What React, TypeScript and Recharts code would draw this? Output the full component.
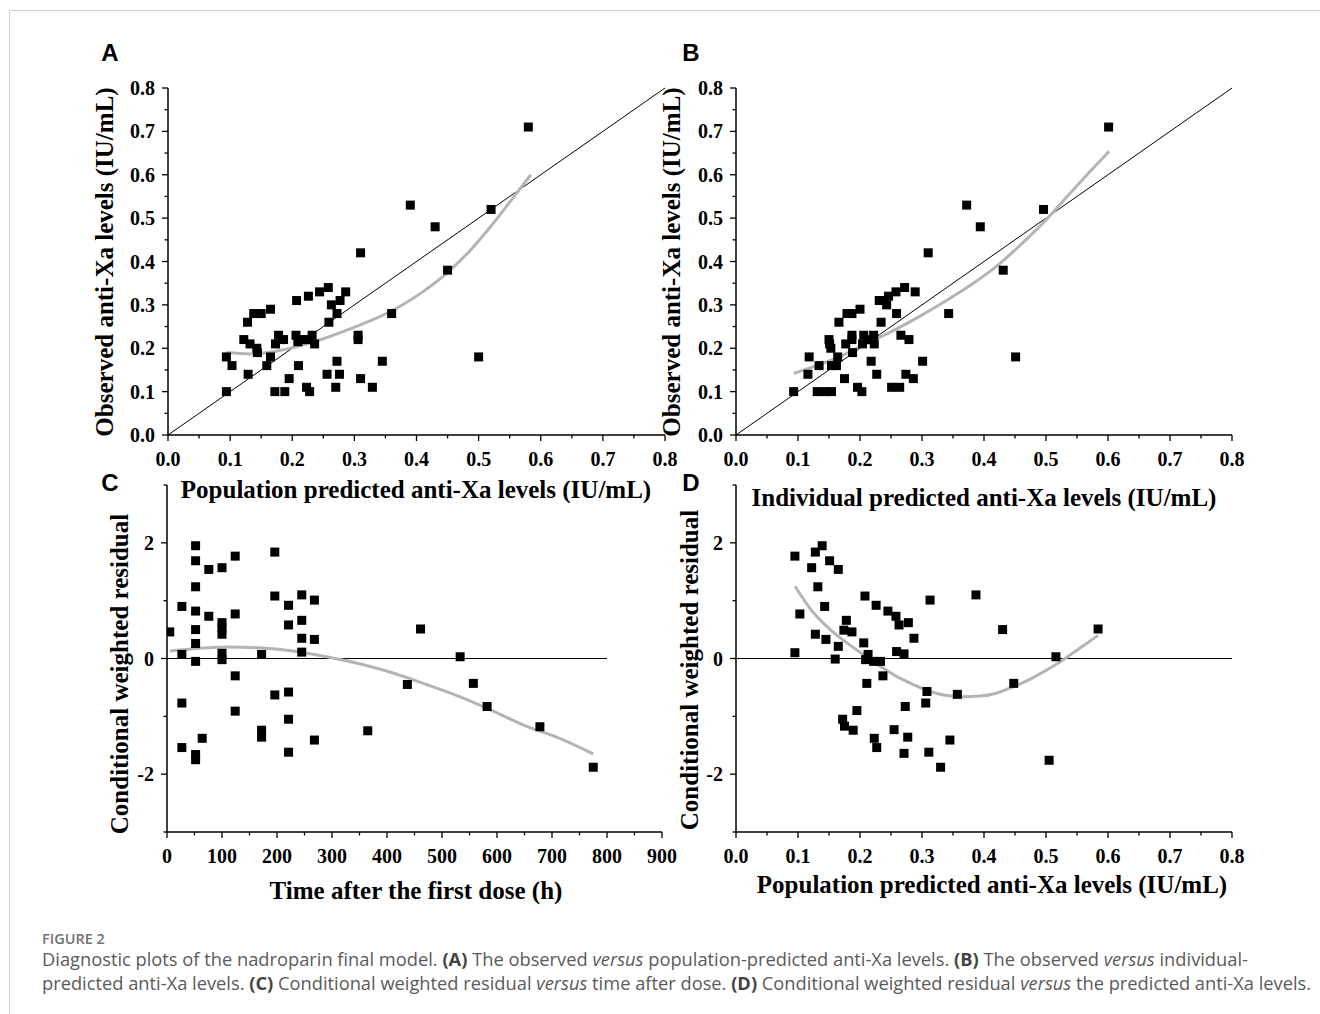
import React from 'react';
import { ComposedChart, Scatter, XAxis, YAxis, ReferenceLine } from 'recharts';

// ---------- Panel A: observed vs population predicted ----------
const popPredA = [0.58, 0.39, 0.43, 0.52, 0.31, 0.45, 0.36, 0.50, 0.165, 0.138, 0.150, 0.128, 0.207, 0.226, 0.244, 0.258, 0.286, 0.263, 0.277, 0.272, 0.259, 0.122, 0.132, 0.143, 0.144, 0.094, 0.103, 0.129, 0.094, 0.159, 0.165, 0.173, 0.178, 0.186, 0.206, 0.209, 0.217, 0.225, 0.232, 0.236, 0.210, 0.195, 0.172, 0.188, 0.223, 0.228, 0.256, 0.272, 0.276, 0.270, 0.306, 0.306, 0.310, 0.329, 0.345];
const obsA = [0.71, 0.53, 0.48, 0.52, 0.42, 0.38, 0.28, 0.18, 0.29, 0.28, 0.28, 0.26, 0.31, 0.32, 0.33, 0.34, 0.33, 0.30, 0.31, 0.28, 0.26, 0.22, 0.21, 0.20, 0.19, 0.18, 0.16, 0.14, 0.10, 0.16, 0.18, 0.21, 0.23, 0.22, 0.23, 0.215, 0.22, 0.22, 0.23, 0.21, 0.16, 0.13, 0.10, 0.10, 0.11, 0.10, 0.14, 0.17, 0.14, 0.11, 0.23, 0.22, 0.13, 0.11, 0.17];
const smoothA_x = [0.094, 0.132, 0.169, 0.210, 0.250, 0.290, 0.330, 0.370, 0.410, 0.448, 0.486, 0.523, 0.556, 0.584];
const smoothA_y = [0.190, 0.187, 0.192, 0.205, 0.222, 0.243, 0.266, 0.294, 0.330, 0.372, 0.425, 0.487, 0.548, 0.600];

// ---------- Panel B: observed vs individual predicted ----------
const indPredB = [0.601, 0.372, 0.394, 0.496, 0.310, 0.431, 0.343, 0.451, 0.166, 0.179, 0.187, 0.200, 0.231, 0.238, 0.246, 0.258, 0.272, 0.289, 0.243, 0.259, 0.234, 0.187, 0.187, 0.206, 0.222, 0.204, 0.223, 0.212, 0.177, 0.150, 0.151, 0.153, 0.164, 0.188, 0.118, 0.134, 0.154, 0.162, 0.116, 0.093, 0.131, 0.144, 0.154, 0.175, 0.196, 0.203, 0.218, 0.227, 0.251, 0.264, 0.266, 0.279, 0.274, 0.286, 0.301];
const obsB = [0.71, 0.53, 0.48, 0.52, 0.42, 0.38, 0.28, 0.18, 0.26, 0.28, 0.28, 0.29, 0.31, 0.31, 0.32, 0.33, 0.34, 0.33, 0.30, 0.28, 0.26, 0.23, 0.22, 0.23, 0.23, 0.21, 0.21, 0.22, 0.21, 0.22, 0.21, 0.20, 0.18, 0.19, 0.18, 0.16, 0.16, 0.16, 0.14, 0.10, 0.10, 0.10, 0.10, 0.13, 0.11, 0.10, 0.17, 0.14, 0.11, 0.11, 0.23, 0.22, 0.14, 0.13, 0.17];
const smoothB_x = [0.093, 0.130, 0.168, 0.205, 0.249, 0.292, 0.335, 0.378, 0.421, 0.458, 0.496, 0.528, 0.561, 0.602];
const smoothB_y = [0.142, 0.160, 0.181, 0.207, 0.237, 0.270, 0.306, 0.345, 0.390, 0.437, 0.490, 0.540, 0.592, 0.654];

// ---------- Panel C: CWRES vs time ----------
const timeC = [5, 27, 27, 27, 27, 52, 52, 52, 52, 52, 52, 52, 52, 52, 64, 76, 76, 100, 100, 100, 100, 100, 100, 124, 124, 124, 124, 172, 172, 172, 196, 196, 196, 221, 221, 221, 221, 221, 245, 245, 245, 245, 268, 268, 268, 365, 437, 461, 533, 557, 582, 678, 775];
const cwresC = [0.46, 0.90, 0.07, -0.77, -1.54, 1.95, 1.69, 1.24, 0.82, 0.50, 0.26, -0.05, -1.66, -1.75, -1.38, 1.54, 0.73, 1.57, 0.62, 0.53, 0.42, 0.09, -0.02, 1.77, 0.77, -0.30, -0.91, 0.07, -1.24, -1.36, 1.84, 1.08, -0.63, 0.92, 0.58, -0.58, -1.05, -1.62, 1.10, 0.66, 0.35, 0.11, 1.01, 0.33, -1.41, -1.25, -0.45, 0.51, 0.03, -0.43, -0.83, -1.18, -1.88];
const smoothC_x = [5, 47, 108, 168, 229, 290, 350, 411, 472, 532, 593, 653, 714, 775];
const smoothC_y = [0.13, 0.17, 0.20, 0.185, 0.13, 0.03, -0.09, -0.25, -0.45, -0.66, -0.91, -1.17, -1.38, -1.65];

// ---------- Panel D: CWRES vs population predicted ----------
const popPredD = [0.095, 0.095, 0.103, 0.122, 0.128, 0.139, 0.151, 0.165, 0.132, 0.143, 0.128, 0.145, 0.165, 0.160, 0.178, 0.174, 0.187, 0.172, 0.175, 0.189, 0.195, 0.208, 0.226, 0.245, 0.258, 0.263, 0.278, 0.287, 0.206, 0.213, 0.209, 0.233, 0.222, 0.237, 0.211, 0.259, 0.271, 0.273, 0.223, 0.227, 0.255, 0.277, 0.271, 0.308, 0.306, 0.313, 0.311, 0.330, 0.345, 0.357, 0.387, 0.430, 0.448, 0.505, 0.516, 0.584];
const cwresD = [1.77, 0.10, 0.77, 1.57, 1.84, 1.95, 1.69, 1.54, 1.24, 0.90, 0.42, 0.33, 0.21, -0.01, 0.66, 0.49, 0.46, -1.05, -1.17, -1.24, -0.90, 1.08, 0.92, 0.82, 0.73, 0.58, 0.62, 0.35, 0.27, 0.07, -0.02, -0.05, -0.05, -0.30, -0.43, 0.12, 0.08, -0.83, -1.38, -1.54, -1.23, -1.36, -1.64, -0.57, -0.77, 1.01, -1.62, -1.88, -1.41, -0.62, 1.10, 0.50, -0.43, -1.76, 0.03, 0.51];
const smoothD_x = [0.095, 0.125, 0.152, 0.179, 0.205, 0.232, 0.259, 0.286, 0.313, 0.340, 0.367, 0.394, 0.420, 0.447, 0.474, 0.501, 0.528, 0.555, 0.584];
const smoothD_y = [1.25, 0.79, 0.50, 0.27, 0.07, -0.13, -0.31, -0.45, -0.57, -0.64, -0.66, -0.65, -0.60, -0.49, -0.36, -0.20, -0.02, 0.18, 0.40];

// ---------- Ticks ----------
const concMajorTicks = [0, 0.1, 0.2, 0.3, 0.4, 0.5, 0.6, 0.7, 0.8];
const concMinorTicks = [0.05, 0.15, 0.25, 0.35, 0.45, 0.55, 0.65, 0.75];
const timeMajorTicks = [0, 100, 200, 300, 400, 500, 600, 700, 800, 900];
const timeMinorTicks = [50, 150, 250, 350, 450, 550, 650, 750, 850];
const cwresLabelTicks = [-2, 0, 2];
const cwresOtherTicks = [-3, -1, 1, 3];

const zip = (xs: number[], ys: number[]) => xs.map((x, i) => ({ x, y: ys[i] }));

const W = 1320;
const H = 1014;
const SERIF = '"Liberation Serif", "Times New Roman", serif';
const SANS = '"Liberation Sans", Arial, sans-serif';
const CAP = '"Open Sans", "Noto Sans", sans-serif';
const TICK_FONT = 20;

const isIn = (arr: number[], v: number) => arr.some((t) => Math.abs(t - v) < 1e-9);

const makeXTick = (labeled: number[], fmt: (v: number) => string) => (props: any) => {
  const { x, y, payload } = props;
  const v = payload.value;
  const major = isIn(labeled, v);
  return (
    <g>
      <line x1={x} x2={x} y1={y} y2={y + (major ? 6 : 3.5)} stroke="#000" strokeWidth={1.3} />
      {major && (
        <text x={x} y={y + 31} textAnchor="middle" fontFamily={SERIF} fontWeight="bold" fontSize={TICK_FONT} fill="#000">
          {fmt(v)}
        </text>
      )}
    </g>
  );
};

const makeYTick = (labeled: number[], fmt: (v: number) => string) => (props: any) => {
  const { x, y, payload } = props;
  const v = payload.value;
  const major = isIn(labeled, v);
  return (
    <g>
      <line x1={x} x2={x - (major ? 6 : 3.5)} y1={y} y2={y} stroke="#000" strokeWidth={1.3} />
      {major && (
        <text x={x - 13} y={y + 7} textAnchor="end" fontFamily={SERIF} fontWeight="bold" fontSize={TICK_FONT} fill="#000">
          {fmt(v)}
        </text>
      )}
    </g>
  );
};

const square = (p: any) => <rect x={p.cx - 4.5} y={p.cy - 4.5} width={9} height={9} fill="#000" />;
const noShape = () => <g />;

type PanelProps = {
  left: number; right: number; top: number; bottom: number;
  xDomain: [number, number]; yDomain: [number, number];
  xMajor: number[]; xMinor: number[]; yMajor: number[]; yMinor: number[];
  xFmt: (v: number) => string; yFmt: (v: number) => string;
  points: { x: number; y: number }[];
  smooth: { x: number; y: number }[];
  refs: React.ReactNode;
};

const Panel = (p: PanelProps) => {
  const yAxisW = 60;
  const xAxisH = 30;
  const margin = { left: p.left - yAxisW, right: W - p.right, top: p.top, bottom: H - p.bottom - xAxisH };
  const xTicks = [...p.xMajor, ...p.xMinor].sort((a, b) => a - b);
  const yTicks = [...p.yMajor, ...p.yMinor].sort((a, b) => a - b);
  return (
    <div style={{ position: 'absolute', left: 0, top: 0 }}>
      <ComposedChart width={W} height={H} margin={margin}>
        <XAxis
          type="number" dataKey="x" domain={p.xDomain} ticks={xTicks} interval={0}
          height={xAxisH} tickSize={0} tickMargin={0} tickLine={false}
          axisLine={{ stroke: '#000', strokeWidth: 1.5 }}
          tick={makeXTick(p.xMajor, p.xFmt)} allowDataOverflow
        />
        <YAxis
          type="number" dataKey="y" domain={p.yDomain} ticks={yTicks} interval={0}
          width={yAxisW} tickSize={0} tickMargin={0} tickLine={false}
          axisLine={{ stroke: '#000', strokeWidth: 1.5 }}
          tick={makeYTick(p.yMajor, p.yFmt)} allowDataOverflow
        />
        {p.refs}
        <Scatter data={p.smooth} line={{ stroke: '#b4b4b4', strokeWidth: 3 }} lineJointType="monotoneX" shape={noShape} isAnimationActive={false} />
        <Scatter data={p.points} shape={square} isAnimationActive={false} />
      </ComposedChart>
    </div>
  );
};

const f1 = (v: number) => v.toFixed(1);
const f0 = (v: number) => String(v);

const txt = (content: string, cx: number, cy: number, size: number, rotate = false, family = SERIF): React.ReactNode => (
  <div
    style={{
      position: 'absolute', left: cx, top: cy,
      transform: `translate(-50%, -50%)${rotate ? ' rotate(-90deg)' : ''}`,
      whiteSpace: 'nowrap', fontFamily: family, fontWeight: 'bold', fontSize: size, lineHeight: 1, color: '#000',
    }}
  >
    {content}
  </div>
);

const B = ({ children }: { children: React.ReactNode }) => <b style={{ color: '#444', fontWeight: 700 }}>{children}</b>;

export default function App() {
  return (
    <div style={{ position: 'absolute', left: 0, top: 0, width: W, height: H, background: '#fff', overflow: 'hidden' }}>
      {/* frame lines */}
      <div style={{ position: 'absolute', left: 9, top: 10, width: W - 9, height: 1, background: '#d0d0d0' }} />
      <div style={{ position: 'absolute', left: 9, top: 10, width: 1, height: H - 10, background: '#d0d0d0' }} />

      <Panel
        left={168} right={665} top={88} bottom={435}
        xDomain={[0, 0.8]} yDomain={[0, 0.8]}
        xMajor={concMajorTicks} xMinor={concMinorTicks} yMajor={concMajorTicks} yMinor={concMinorTicks}
        xFmt={f1} yFmt={f1}
        points={zip(popPredA, obsA)} smooth={zip(smoothA_x, smoothA_y)}
        refs={<ReferenceLine segment={[{ x: 0, y: 0 }, { x: 0.8, y: 0.8 }]} stroke="#000" strokeWidth={1} />}
      />
      <Panel
        left={736} right={1232} top={88} bottom={435}
        xDomain={[0, 0.8]} yDomain={[0, 0.8]}
        xMajor={concMajorTicks} xMinor={concMinorTicks} yMajor={concMajorTicks} yMinor={concMinorTicks}
        xFmt={f1} yFmt={f1}
        points={zip(indPredB, obsB)} smooth={zip(smoothB_x, smoothB_y)}
        refs={<ReferenceLine segment={[{ x: 0, y: 0 }, { x: 0.8, y: 0.8 }]} stroke="#000" strokeWidth={1} />}
      />
      <Panel
        left={167} right={662} top={485} bottom={832}
        xDomain={[0, 900]} yDomain={[-3, 3]}
        xMajor={timeMajorTicks} xMinor={timeMinorTicks} yMajor={cwresLabelTicks} yMinor={cwresOtherTicks}
        xFmt={f0} yFmt={f0}
        points={zip(timeC, cwresC)} smooth={zip(smoothC_x, smoothC_y)}
        refs={<ReferenceLine segment={[{ x: 0, y: 0 }, { x: 800, y: 0 }]} stroke="#000" strokeWidth={1} />}
      />
      <Panel
        left={736} right={1232} top={485} bottom={832}
        xDomain={[0, 0.8]} yDomain={[-3, 3]}
        xMajor={concMajorTicks} xMinor={concMinorTicks} yMajor={cwresLabelTicks} yMinor={cwresOtherTicks}
        xFmt={f1} yFmt={f0}
        points={zip(popPredD, cwresD)} smooth={zip(smoothD_x, smoothD_y)}
        refs={<ReferenceLine segment={[{ x: 0, y: 0 }, { x: 0.8, y: 0 }]} stroke="#000" strokeWidth={1} />}
      />

      {/* panel letters */}
      {txt('A', 110, 53, 24, false, SANS)}
      {txt('B', 691, 53, 24, false, SANS)}
      {txt('C', 110, 483, 24, false, SANS)}
      {txt('D', 691, 483, 24, false, SANS)}

      {/* axis titles */}
      {txt('Observed anti-Xa levels (IU/mL)', 104, 262, 25, true)}
      {txt('Observed anti-Xa levels (IU/mL)', 671, 262, 25, true)}
      {txt('Population predicted anti-Xa levels (IU/mL)', 416, 489, 25)}
      {txt('Individual predicted anti-Xa levels (IU/mL)', 984, 497, 25)}
      {txt('Conditional weighted residual', 119, 674, 25, true)}
      {txt('Conditional weighted residual', 689, 670, 25, true)}
      {txt('Time after the first dose (h)', 416, 890, 25)}
      {txt('Population predicted anti-Xa levels (IU/mL)', 992, 884, 25)}

      {/* caption */}
      <div style={{ position: 'absolute', left: 42, top: 932, fontFamily: CAP, fontSize: 14.5, fontWeight: 600, color: '#707070', lineHeight: 1 }}>
        FIGURE 2
      </div>
      <div style={{ position: 'absolute', left: 42, top: 947, fontFamily: CAP, fontSize: 18.3, color: '#5a5a5a', lineHeight: '24px', whiteSpace: 'nowrap' }}>
        Diagnostic plots of the nadroparin final model. <B>(A)</B> The observed <i>versus</i> population-predicted anti-Xa levels. <B>(B)</B> The observed <i>versus</i> individual-
        <br />
        predicted anti-Xa levels. <B>(C)</B> Conditional weighted residual <i>versus</i> time after dose. <B>(D)</B> Conditional weighted residual <i>versus</i> the predicted anti-Xa levels.
      </div>
    </div>
  );
}
